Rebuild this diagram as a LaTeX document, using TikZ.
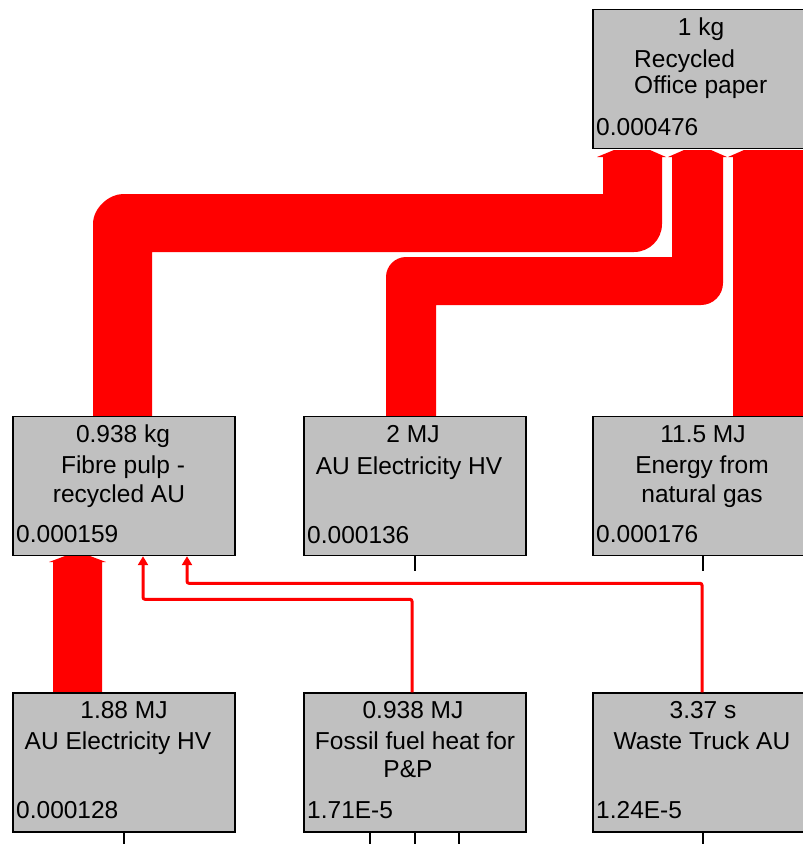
\documentclass[tikz,border=0pt]{standalone}
\usepackage{fontspec}
\setmainfont{Liberation Sans}
\usetikzlibrary{arrows.meta}
\definecolor{boxgray}{HTML}{C0C0C0}
\definecolor{flowred}{HTML}{FF0000}
\begin{document}
\begin{tikzpicture}[x=1pt,y=-1pt,
  pbox/.style={draw=black,line width=1.4pt,fill=boxgray,inner sep=0pt,minimum width=222pt,minimum height=139pt},
  ctext/.style={inner sep=0pt,anchor=base,font=\fontsize{24.5}{30}\selectfont},
  ltext/.style={inner sep=0pt,anchor=base west,font=\fontsize{24.5}{30}\selectfont},
  bigflow/.style={fill=flowred},
  thinflow/.style={draw=flowred,line width=3pt,rounded corners=2pt,-{Triangle[width=10pt,length=9pt]}},
  tick/.style={draw=black,line width=1.2pt}]
\useasboundingbox (0,0) rectangle (803,844);
\clip (0,0) rectangle (803,844);
\fill[white] (0,0) rectangle (803,844);

% big flows
\fill[bigflow] (93,417) -- (93,224) .. controls (93,207.4) and (109.6,194) .. (123,194)
  -- (603,194) -- (603,157) -- (597,157) -- (614,150) -- (650,150) -- (666,157) -- (662,157)
  -- (662,224) .. controls (662,239.5) and (649.5,252) .. (634,252) -- (152,252) -- (152,417) -- cycle;
\fill[bigflow] (386,417) -- (386,277) .. controls (386,266) and (395,257) .. (406,257)
  -- (672,257) -- (672,157) -- (668,157) -- (684,150) -- (711,150) -- (727,157) -- (723,157)
  -- (723,283) .. controls (723,295.1) and (713.1,305) .. (701,305) -- (436,305) -- (436,417) -- cycle;
\fill[bigflow] (733,417) -- (733,157) -- (728,157) -- (744,150) -- (830,150) -- (830,417) -- cycle;
\fill[bigflow] (53,693) -- (53,562) -- (49,562) -- (65,556) -- (90,556) -- (106,562) -- (102,562) -- (102,693) -- cycle;

% boxes
\node[pbox] (top) at (704,79) {};
\node[pbox] (m1) at (124,486) {};
\node[pbox] (m2) at (415,486) {};
\node[pbox] (m3) at (704,486) {};
\node[pbox] (b1) at (124,762.5) {};
\node[pbox] (b2) at (415,762.5) {};
\node[pbox] (b3) at (704,762.5) {};

% ticks
\draw[tick] (m2.south) -- ++(0,15);
\draw[tick] ([xshift=-1pt]m3.south) -- ++(0,15);
\draw[tick] (b1.south) -- ++(0,12);
\draw[tick] ([xshift=-45pt]b2.south) -- ++(0,12);
\draw[tick] (b2.south) -- ++(0,12);
\draw[tick] ([xshift=44pt]b2.south) -- ++(0,12);
\draw[tick] ([xshift=-1pt]b3.south) -- ++(0,12);

% thin flows
\draw[thinflow] ([xshift=-3pt]b2.north) -- ++(0,-93) -| ([xshift=19pt]m1.south);
\draw[thinflow] ([xshift=-2pt]b3.north) -- ++(0,-109) -| ([xshift=63pt]m1.south);

% texts
\node[ctext] (t1) at (701,35) {1 kg};
\node[ltext] (t2) at (634,67) {Recycled};
\node[ltext] (t3) at (634,93) {Office paper};
\node[ltext] (t4) at (596,135) {0.000476};

\node[ctext] (m1a) at (123,442) {0.938 kg};
\node[ctext] (m1b) at (123,473) {Fibre pulp -};
\node[ctext] (m1c) at (119,502) {recycled AU};
\node[ltext] (m1d) at (16,542) {0.000159};

\node[ctext] (m2a) at (413,442) {2 MJ};
\node[ctext] (m2b) at (409,474) {AU Electricity HV};
\node[ltext] (m2d) at (307,543) {0.000136};

\node[ctext] (m3a) at (703,442) {11.5 MJ};
\node[ctext] (m3b) at (702,473) {Energy from};
\node[ctext] (m3c) at (702,502) {natural gas};
\node[ltext] (m3d) at (596,542) {0.000176};

\node[ctext] (b1a) at (124,718) {1.88 MJ};
\node[ctext] (b1b) at (118,749) {AU Electricity HV};
\node[ltext] (b1d) at (16,818) {0.000128};

\node[ctext] (b2a) at (413,718) {0.938 MJ};
\node[ctext] (b2b) at (415,749) {Fossil fuel heat for};
\node[ctext] (b2c) at (408,777) {P\&P};
\node[ltext] (b2d) at (307,818) {1.71E-5};

\node[ctext] (b3a) at (703,718) {3.37 s};
\node[ctext] (b3b) at (702,749) {Waste Truck AU};
\node[ltext] (b3d) at (596,818) {1.24E-5};
\end{tikzpicture}
\end{document}
